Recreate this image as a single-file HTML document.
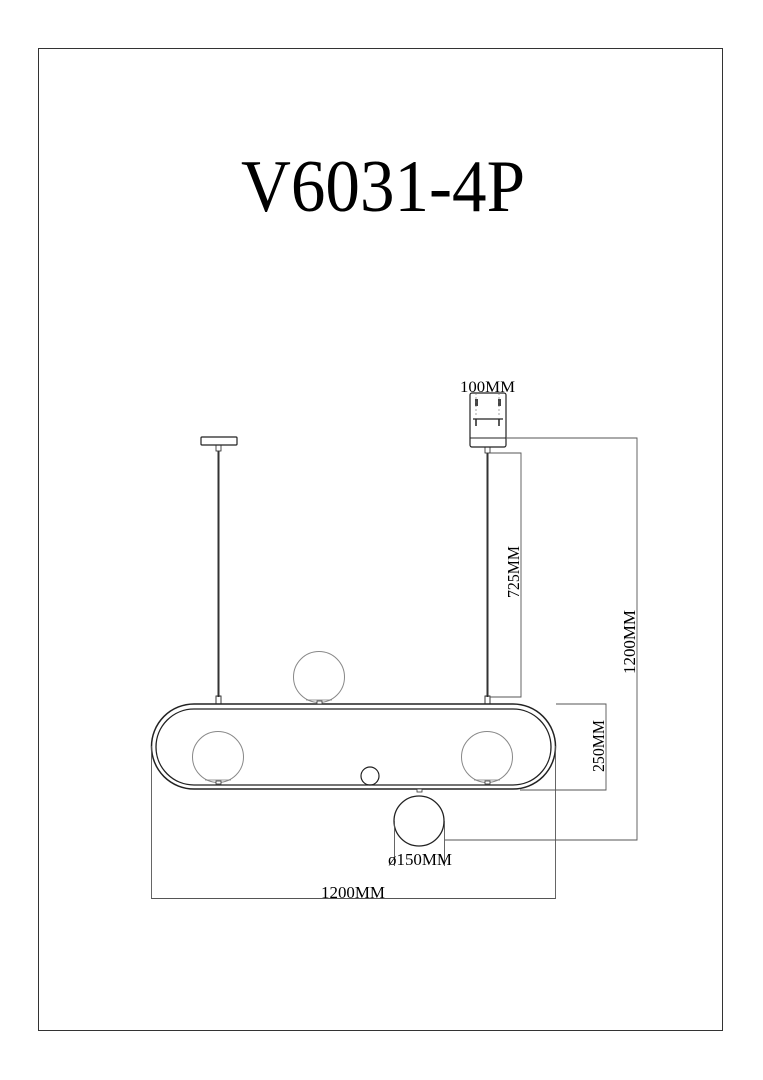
<!DOCTYPE html>
<html><head><meta charset="utf-8"><style>
html,body{margin:0;padding:0;background:#fff}
svg{display:block}
text{font-family:"Liberation Serif",serif;fill:#000}
</style></head><body>
<svg width="763" height="1080" viewBox="0 0 763 1080" xmlns="http://www.w3.org/2000/svg">
<rect x="38.5" y="48.5" width="684" height="982" fill="none" stroke="#333" stroke-width="1"/>
<text x="241" y="211" font-size="74" textLength="284" lengthAdjust="spacingAndGlyphs">V6031-4P</text>

<!-- canopies -->
<rect x="201" y="437" width="36" height="8" fill="none" stroke="#222" stroke-width="1.2" rx="1"/>
<rect x="470" y="393" width="36" height="54" fill="none" stroke="#222" stroke-width="1.2" rx="2"/>
<line x1="470" y1="438" x2="506" y2="438" stroke="#222" stroke-width="1"/>
<line x1="473" y1="419" x2="503" y2="419" stroke="#222" stroke-width="1.2"/>
<line x1="476" y1="419" x2="476" y2="426" stroke="#222" stroke-width="1.5"/>
<line x1="499" y1="419" x2="499" y2="426" stroke="#222" stroke-width="1.5"/>
<rect x="475" y="399" width="3" height="7" fill="#444"/>
<rect x="498" y="399" width="3" height="7" fill="#444"/>
<line x1="476" y1="393" x2="476" y2="416" stroke="#666" stroke-width="0.6" stroke-dasharray="2,2"/>
<line x1="499" y1="393" x2="499" y2="416" stroke="#666" stroke-width="0.6" stroke-dasharray="2,2"/>
<rect x="485" y="447" width="5" height="6" fill="none" stroke="#222" stroke-width="0.8"/>
<rect x="216" y="445" width="5" height="6" fill="none" stroke="#222" stroke-width="0.8"/>

<!-- rods -->
<line x1="218.5" y1="451" x2="218.5" y2="697" stroke="#333" stroke-width="2"/>
<line x1="487.5" y1="453" x2="487.5" y2="697" stroke="#333" stroke-width="2"/>
<rect x="216" y="696" width="5" height="8" fill="none" stroke="#222" stroke-width="0.9"/>
<rect x="485" y="696" width="5" height="8" fill="none" stroke="#222" stroke-width="0.9"/>

<!-- ring -->
<rect x="151.5" y="704" width="404" height="85" rx="42.5" fill="none" stroke="#222" stroke-width="1.5"/>
<rect x="156" y="709" width="395" height="76" rx="38" fill="none" stroke="#222" stroke-width="1.3"/>

<!-- globes -->
<g fill="none" stroke="#888" stroke-width="1">
<circle cx="319" cy="677" r="25.5"/>
<circle cx="218" cy="757" r="25.5"/>
<circle cx="487" cy="757" r="25.5"/>
</g>
<circle cx="419" cy="821" r="25" fill="none" stroke="#222" stroke-width="1.3"/>
<circle cx="370" cy="776" r="9" fill="none" stroke="#222" stroke-width="1.2"/>
<g fill="#fff" stroke="#333" stroke-width="0.8">
<rect x="317" y="701" width="5" height="3"/>
<rect x="216" y="781" width="5" height="3"/>
<rect x="485" y="781" width="5" height="3"/>
<rect x="417" y="789" width="5" height="3"/>
</g>
<g stroke="#777" stroke-width="0.8">
<line x1="306" y1="700" x2="332" y2="700"/>
<line x1="205" y1="780" x2="231" y2="780"/>
<line x1="474" y1="780" x2="500" y2="780"/>
</g>

<!-- dimension lines -->
<g fill="none" stroke="#555" stroke-width="0.9">
<polyline points="490,453 521,453 521,697 490,697"/>
<polyline points="506,438 637,438 637,840 445,840"/>
<polyline points="556,704 606,704 606,790 520,790"/>
<line x1="151.5" y1="746" x2="151.5" y2="899"/>
<line x1="555.5" y1="746" x2="555.5" y2="899"/>
<line x1="151.5" y1="898.5" x2="555.5" y2="898.5"/>
<line x1="394.5" y1="821" x2="394.5" y2="866"/>
<line x1="444.5" y1="821" x2="444.5" y2="866"/>
</g>

<!-- labels -->
<text x="460" y="392" font-size="16" textLength="55" lengthAdjust="spacingAndGlyphs">100MM</text>
<text x="388" y="865" font-size="17" textLength="64" lengthAdjust="spacingAndGlyphs">ø150MM</text>
<text x="321" y="898" font-size="17" textLength="64" lengthAdjust="spacingAndGlyphs">1200MM</text>
<text transform="translate(519,598) rotate(-90)" font-size="17" textLength="52" lengthAdjust="spacingAndGlyphs">725MM</text>
<text transform="translate(635,674) rotate(-90)" font-size="17" textLength="64" lengthAdjust="spacingAndGlyphs">1200MM</text>
<text transform="translate(604,772) rotate(-90)" font-size="17" textLength="52" lengthAdjust="spacingAndGlyphs">250MM</text>
</svg>
</body></html>
